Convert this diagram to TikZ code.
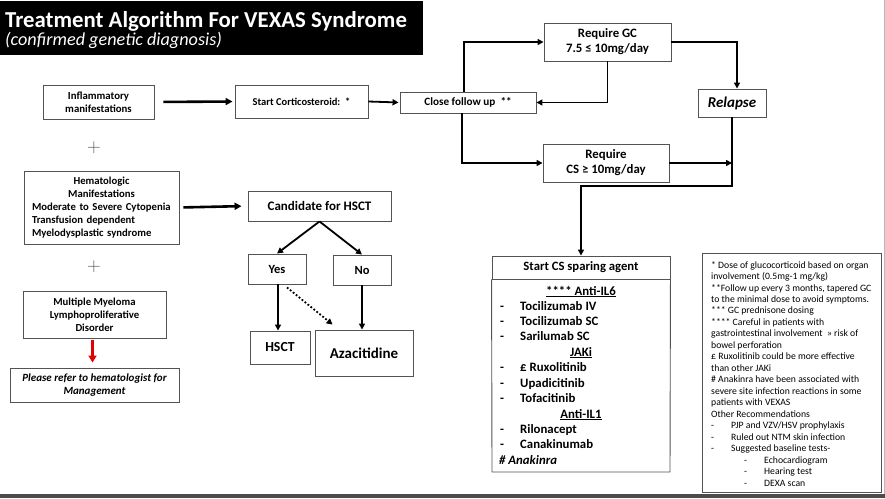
\documentclass[tikz,border=0pt]{standalone}
\usepackage{fontspec}
\setmainfont{Carlito}
\usetikzlibrary{arrows.meta}
\newcommand{\myfs}[2]{\fontsize{#1}{#2}\selectfont}
\begin{document}
\begin{tikzpicture}[x=1pt,y=-1pt,
  box/.style={draw=gray!65!black, line width=0.9pt, fill=white, inner sep=0pt, align=center},
  arr/.style={line width=1.8pt, -{Triangle[length=6pt,width=6pt]}},
  thickarr/.style={line width=2.6pt, -{Triangle[length=7pt,width=7pt]}},
  dotarr/.style={line width=1.8pt, dotted, -{Triangle[length=6pt,width=6pt]}},
  redarr/.style={line width=2.6pt, red!90!black, -{Triangle[length=7pt,width=8pt]}},
  plus/.style={font=\fontspec{Latin Modern Roman}\myfs{19}{19}, text=gray!70!black, inner sep=0pt},
  bodytext/.style={font=\bfseries\myfs{12.8}{15}, inner sep=0pt, anchor=base west},
  bodyhead/.style={font=\bfseries\myfs{12.8}{15}, inner sep=0pt, anchor=base},
]
\useasboundingbox (0,0) rectangle (885,498);
\fill[white] (0,0) rectangle (885,498);
% title
\fill[black] (0,1) rectangle (423,55);
\node[anchor=base west, inner sep=0pt, text=white, font=\bfseries\myfs{22.8}{25}] (title) at (5,27) {Treatment Algorithm For VEXAS Syndrome};
\node[anchor=base west, inner sep=0pt, text=white, font=\itshape\myfs{18.2}{20}] (subtitle) at (5,45) {(confirmed genetic diagnosis)};
% bottom bar and right edge
\fill[gray!60!black] (0,494) rectangle (885,498);
\draw[gray!55, line width=1.2pt] (884.4,0) -- (884.4,494);

% top flow
\node[box, minimum width=111pt, minimum height=34pt, font=\bfseries\myfs{10.8}{13}] (infl) at (98.5,102) {Inflammatory\\manifestations};
\node[box, minimum width=133pt, minimum height=33pt, font=\bfseries\myfs{10.5}{13}] (start) at (301.5,101.5) {Start Corticosteroid:~~*};
\node[box, minimum width=136pt, minimum height=21pt, font=\bfseries\myfs{11.2}{13}] (follow) at (468,102.5) {Close follow up~~**};
\node[box, minimum width=127pt, minimum height=38pt, font=\bfseries\myfs{12.8}{15}] (reqgc) at (607.5,42) {Require GC\\7.5 ≤ 10mg/day};
\node[box, minimum width=68pt, minimum height=28pt, font=\bfseries\itshape\myfs{15}{17}] (relapse) at (732,103) {Relapse};
\node[box, minimum width=126pt, minimum height=38pt, font=\bfseries\myfs{12.8}{15}] (reqcs) at (606,163) {Require\\CS ≥ 10mg/day};

\draw[thickarr, shorten <=9pt, shorten >=2pt] (infl.east) -- (start.west);
\draw[arr, shorten >=1pt] (start.east) -- (follow.west);
\draw[arr] ([xshift=-4pt]follow.north) |- (reqgc.west);
\draw[arr] (reqgc.south) |- (follow.east);
\draw[arr] (reqgc.east) -| ([xshift=5pt]relapse.north);
\draw[arr] ([xshift=-6pt]follow.south) |- (reqcs.west);
\draw[arr] (reqcs.east) -- (relapse.south |- reqcs.east);
\coordinate (turn) at (0,186);

% CS sparing agent
\node[box, minimum width=178pt, minimum height=23pt, font=\bfseries\myfs{12.7}{14}] (cshead) at (581,267.5) {Start CS sparing agent};
\draw[draw=gray!65!black, line width=0.9pt] (cshead.south west) -- (492,472) -- (670,472) -- (cshead.south east);
\draw[arr] (relapse.south) -- (relapse.south |- turn) -| (cshead.north);

\node[bodyhead] (h1) at (581,295) {\underline{**** Anti-IL6}};
\node[bodytext] (d1) at (500,310) {-};
\node[bodytext] (t1) at (520,310) {Tocilizumab IV};
\node[bodytext] (d2) at (500,325) {-};
\node[bodytext] (t2) at (520,325) {Tocilizumab SC};
\node[bodytext] (d3) at (500,340) {-};
\node[bodytext] (t3) at (520,340) {Sarilumab SC};
\node[bodyhead] (h2) at (581,356) {\underline{JAKi}};
\node[bodytext] (d4) at (500,371) {-};
\node[bodytext] (t4) at (520,371) {£ Ruxolitinib};
\node[bodytext] (d5) at (500,387) {-};
\node[bodytext] (t5) at (520,387) {Upadicitinib};
\node[bodytext] (d6) at (500,402) {-};
\node[bodytext] (t6) at (520,402) {Tofacitinib};
\node[bodyhead] (h3) at (581,418) {\underline{Anti-IL1}};
\node[bodytext] (d7) at (500,433) {-};
\node[bodytext] (t7) at (520,433) {Rilonacept};
\node[bodytext] (d8) at (500,448) {-};
\node[bodytext] (t8) at (520,448) {Canakinumab};
\node[bodytext, font=\bfseries\itshape\myfs{12.8}{15}] (t9) at (499,464) {\# Anakinra};

% notes
\node[box, minimum width=179pt, minimum height=239pt] (notesbox) at (791.5,372.5) {};
\node[anchor=north west, inner sep=0pt, align=left, font=\myfs{9.7}{11.47}] (notes) at (711,261) {%
* Dose of glucocorticoid based on organ\\
involvement (0.5mg-1 mg/kg)\\
**Follow up every 3 months, tapered GC\\
to the minimal dose to avoid symptoms.\\
*** GC prednisone dosing\\
**** Careful in patients with\\
gastrointestinal involvement~~» risk of\\
bowel perforation\\
£ Ruxolitinib could be more effective\\
than other JAKi\\
\# Anakinra have been associated with\\
severe site infection reactions in some\\
patients with VEXAS\\
Other Recommendations\\
\makebox[20pt][l]{-}PJP and VZV/HSV prophylaxis\\
\makebox[20pt][l]{-}Ruled out NTM skin infection\\
\makebox[20pt][l]{-}Suggested baseline tests-\\
\hspace*{33pt}\makebox[20pt][l]{-}Echocardiogram\\
\hspace*{33pt}\makebox[20pt][l]{-}Hearing test\\
\hspace*{33pt}\makebox[20pt][l]{-}DEXA scan};

% left column
\node[plus] (plus1) at (94,148) {+};
\node[box, minimum width=155pt, minimum height=73pt, text width=139pt, align=left, font=\bfseries\myfs{10.7}{13}] (hema) at (101.5,207.5) {%
\makebox[139pt][c]{Hematologic}\\
\makebox[139pt][c]{Manifestations}\\
Moderate to Severe Cytopenia\\
Transfusion dependent\\
Myelodysplastic syndrome};
\node[plus] (plus2) at (94,267) {+};
\node[box, minimum width=143pt, minimum height=47pt, font=\bfseries\myfs{10.7}{13}] (mm) at (94.5,314.5) {Multiple Myeloma\\Lymphoproliferative\\Disorder};
\node[box, minimum width=169pt, minimum height=34pt, font=\bfseries\itshape\myfs{11}{13}] (refer) at (94.5,385) {Please refer to hematologist for\\Management};
\draw[redarr, shorten <=2pt, shorten >=5pt] ([xshift=-2pt]mm.south) -- ([xshift=-2pt]refer.north);

% HSCT branch
\node[box, minimum width=143pt, minimum height=30pt, font=\bfseries\myfs{13}{15}] (cand) at (319.5,206) {Candidate for HSCT};
\node[box, minimum width=58pt, minimum height=30pt, font=\bfseries\myfs{12.5}{14}] (yes) at (277,269) {Yes};
\node[box, minimum width=58pt, minimum height=30pt, font=\bfseries\myfs{12.5}{14}] (no) at (362,270) {No};
\node[box, minimum width=60pt, minimum height=33pt, font=\bfseries\myfs{13.8}{15}] (hsct) at (280,347.5) {HSCT};
\node[box, minimum width=98pt, minimum height=46pt, font=\bfseries\myfs{15}{17}] (aza) at (364,353) {Azacitidine};

\draw[thickarr, shorten <=4pt, shorten >=6pt] (hema.east) -- (cand.west);
\draw[arr] (cand.south) -- (yes.north);
\draw[arr] (cand.south) -- (no.north);
\draw[arr] ([xshift=1pt]yes.south) -- ([xshift=1pt]yes.south |- hsct.north);
\draw[dotarr] ([xshift=10pt,yshift=-3pt]yes.south) -- ([xshift=18pt,yshift=5pt]aza.north west);
\draw[arr] (no.south) -- (no.south |- aza.north);
\end{tikzpicture}
\end{document}
